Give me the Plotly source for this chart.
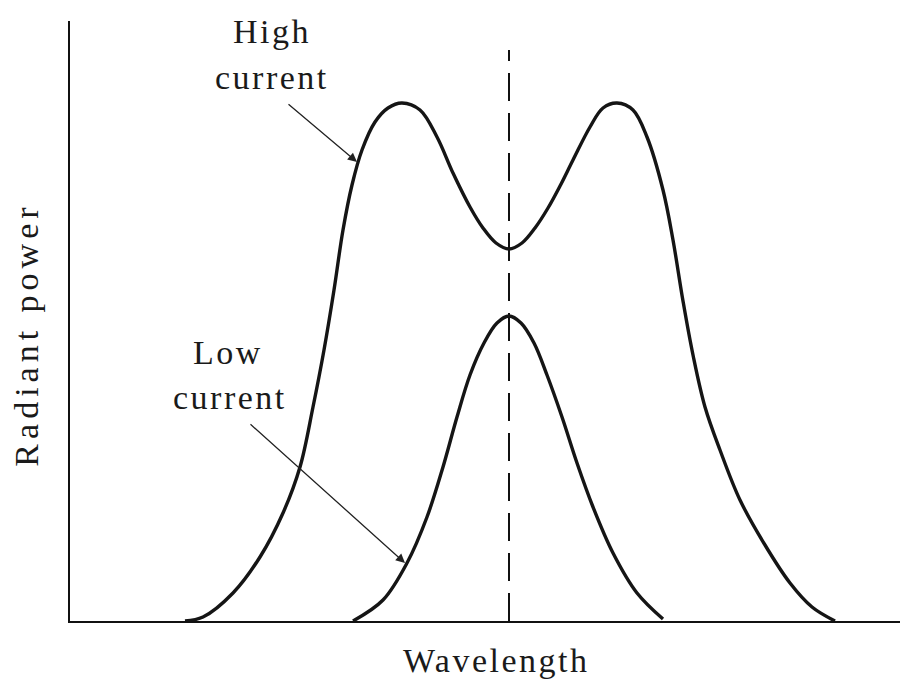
import plotly.graph_objects as go

# Spectral line profiles (relative wavelength units vs relative radiant power)
high_wavelength = [11.5, 13.3, 16.3, 19.0, 21.3, 23.0, 24.3, 25.4, 26.4, 27.3, 28.2, 29.2, 30.5, 31.8,
                   33.2, 35.0, 36.7, 38.3, 40.0, 41.3, 42.6, 43.9, 45.2, 46.5, 47.8, 49.0, 50.3,
                   52.0, 53.3, 54.7, 56.3, 57.7, 59.3, 60.3, 61.3, 62.3, 63.5, 65.0, 67.0, 69.5,
                   72.0, 74.2, 76.5]
high_power = [0.0, 0.4, 2.8, 6.4, 10.8, 15.4, 21.4, 27.1, 33.1, 39.1, 43.6, 47.1, 49.9, 51.3,
              51.8, 51.1, 48.4, 44.8, 41.4, 39.3, 37.8, 37.2, 37.8, 39.3, 41.3, 43.5, 46.1,
              49.4, 51.3, 51.8, 51.1, 48.4, 43.1, 38.1, 32.0, 26.6, 21.4, 17.1, 12.1, 7.6,
              3.8, 1.4, 0.0]

low_wavelength = [28.3, 31.3, 33.7, 35.7, 37.3, 38.7, 40.0, 41.4, 42.7, 43.9, 45.1, 46.4, 47.7,
                  49.2, 50.7, 52.3, 54.3, 56.7, 59.3]
low_power = [0.0, 2.1, 5.8, 10.4, 15.4, 20.4, 24.6, 27.8, 29.8, 30.5, 29.8, 27.8, 24.6,
             20.4, 15.8, 11.4, 6.8, 2.8, 0.2]

center_wavelength = 43.9
dashed_top = 57.1

x_range = [0, 83]
y_range = [0, 60]

FONT = "Liberation Serif, Times New Roman, serif"


def t(s, sp=2.5):
    return f'<span style="letter-spacing:{sp}px">{s}</span>'


fig = go.Figure()

fig.add_trace(go.Scatter(x=[center_wavelength, center_wavelength], y=[0, dashed_top],
                         mode="lines", line=dict(color="#111", width=2, dash="28px,12px"),
                         hoverinfo="skip", showlegend=False))
fig.add_trace(go.Scatter(x=high_wavelength, y=high_power, mode="lines",
                         line=dict(color="#151515", width=3.4, shape="spline", smoothing=1.0),
                         showlegend=False))
fig.add_trace(go.Scatter(x=low_wavelength, y=low_power, mode="lines",
                         line=dict(color="#151515", width=3.4, shape="spline", smoothing=1.0),
                         showlegend=False))

annotations = [
    dict(x=20.2, y=59.0, text=t("High")),
    dict(x=20.2, y=54.4, text=t("current")),
    dict(x=15.8, y=26.9, text=t("Low")),
    dict(x=16.0, y=22.4, text=t("current")),
]
anns = []
for a in annotations:
    d = dict(xref="x", yref="y", showarrow=False, xanchor="center", yanchor="middle",
             font=dict(family=FONT, size=34, color="#1a1a1a"))
    d.update(a)
    anns.append(d)

# axis titles (paper coordinates)
for a in [dict(x=0.514, y=-0.066, text=t("Wavelength")),
          dict(x=-0.052, y=0.477, text=t("Radiant power", 5), textangle=-90)]:
    d = dict(xref="paper", yref="paper", showarrow=False, xanchor="center", yanchor="middle",
             font=dict(family=FONT, size=34, color="#1a1a1a"))
    d.update(a)
    anns.append(d)

# arrows
anns.append(dict(x=28.7, y=45.9, ax=21.7, ay=51.8, xref="x", yref="y", axref="x", ayref="y",
                 text="", showarrow=True, arrowhead=2, arrowsize=1.4, arrowwidth=1.3,
                 arrowcolor="#222"))
anns.append(dict(x=33.5, y=5.8, ax=17.9, ay=19.8, xref="x", yref="y", axref="x", ayref="y",
                 text="", showarrow=True, arrowhead=2, arrowsize=1.4, arrowwidth=1.3,
                 arrowcolor="#222"))

fig.update_layout(
    width=900, height=681,
    margin=dict(l=70, r=0, t=21, b=60),
    paper_bgcolor="white", plot_bgcolor="white",
    xaxis=dict(range=x_range, showline=True, linecolor="#111", linewidth=2,
               showgrid=False, zeroline=False, showticklabels=False, ticks=""),
    yaxis=dict(range=y_range, showline=True, linecolor="#111", linewidth=2,
               showgrid=False, zeroline=False, showticklabels=False, ticks=""),
    annotations=anns,
)

fig.write_html("out.html", config={"displayModeBar": False},
               post_script="document.body.style.margin='0';document.body.style.overflow='hidden';")
